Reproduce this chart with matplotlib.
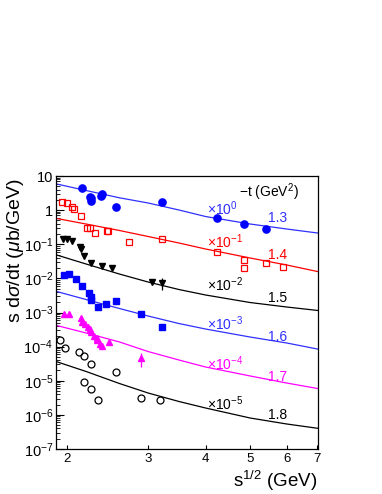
import matplotlib
matplotlib.use("Agg")
import numpy as np
from matplotlib import pyplot as plt
from matplotlib.ticker import FixedLocator, NullFormatter

plt.rcParams['font.family'] = ['Liberation Sans', 'DejaVu Sans']
plt.rcParams['mathtext.fontset'] = 'custom'
plt.rcParams['mathtext.rm'] = 'Liberation Sans'
plt.rcParams['mathtext.it'] = 'Liberation Sans:italic'

# data points (s^1/2 in GeV, s dsigma/dt scaled)
s_13 = [2.16, 2.24, 2.25, 2.26, 2.37, 2.38, 2.55, 3.21, 4.23, 4.86, 5.41]
y_13 = [4.4, 2.5, 2.2, 1.9, 2.6, 2.95, 1.23, 1.7, 0.575, 0.39, 0.28]

s_14 = [1.95, 2.0, 2.05, 2.07, 2.14, 2.21, 2.24, 2.30, 2.44, 2.45, 2.73, 3.21, 4.23, 4.86, 4.86, 5.41, 5.90]
y_14 = [1.77, 1.58, 1.21, 1.07, 0.68, 0.29, 0.29, 0.22, 0.245, 0.24, 0.119, 0.139, 0.060, 0.0344, 0.0196, 0.0275, 0.021]

s_15 = [1.96, 2.0, 2.05, 2.13, 2.15, 2.18, 2.26, 2.38, 2.51, 3.06, 3.21]
y_15 = [0.139, 0.14, 0.126, 0.081, 0.072, 0.046, 0.0275, 0.023, 0.0196, 0.0077, 0.0075]
err_15 = [0, 0, 0, 0, 0, 0, 0, 0, 0, 0, 0.003]

s_16 = [1.97, 2.02, 2.09, 2.16, 2.23, 2.25, 2.25, 2.34, 2.43, 2.55, 2.89, 3.21]
y_16 = [0.0126, 0.0131, 0.0093, 0.0061, 0.0037, 0.0029, 0.0023, 0.00147, 0.00173, 0.00224, 8.9e-4, 3.8e-4]

s_17 = [1.97, 2.02, 2.14, 2.16, 2.19, 2.22, 2.24, 2.26, 2.29, 2.32, 2.32, 2.36, 2.38, 2.47, 2.89]
y_17 = [9.3e-4, 9.3e-4, 6.8e-4, 5.3e-4, 4.6e-4, 3.8e-4, 3.2e-4, 2.6e-4, 2.1e-4, 1.75e-4, 1.55e-4, 1.17e-4, 1.02e-4, 1.33e-4, 4.5e-5]
err_17 = [0, 0, 0, 0, 0, 0, 0, 0, 0, 0, 0, 0, 0, 0, 2.0e-5]

s_18 = [1.93, 1.98, 2.12, 2.18, 2.25, 2.55, 2.18, 2.25, 2.33, 2.89, 3.19]
y_18 = [1.55e-4, 8.9e-5, 7.1e-5, 5.2e-5, 3.1e-5, 1.82e-5, 9.3e-6, 5.9e-6, 2.7e-6, 3.2e-6, 2.7e-6]

# fitted curves
curve_s = [1.9, 2.2, 2.6, 3.0, 3.5, 4.0, 5.0, 6.0, 7.0]
curve_13 = [5.83, 3.76, 2.30, 1.62, 1.01, 0.650, 0.392, 0.280, 0.214]
curve_14 = [0.569, 0.392, 0.253, 0.169, 0.109, 0.0726, 0.0395, 0.0247, 0.0159]
curve_15 = [0.0484, 0.0264, 0.0134, 0.00783, 0.00472, 0.00326, 0.00196, 0.00145, 0.00115]
curve_16 = [4.12e-3, 2.40e-3, 1.31e-3, 7.89e-4, 4.76e-4, 3.28e-4, 1.91e-4, 1.28e-4, 8.51e-5]
curve_17 = [4.16e-4, 2.51e-4, 1.37e-4, 7.19e-5, 4.06e-5, 2.53e-5, 1.38e-5, 8.59e-6, 5.93e-6]
curve_18 = [3.61e-5, 1.87e-5, 8.30e-6, 4.38e-6, 2.47e-6, 1.59e-6, 8.09e-7, 5.41e-7, 4.05e-7]

t_labels = ["1.3", "1.4", "1.5", "1.6", "1.7", "1.8"]
scale_labels = ["0", "-1", "-2", "-3", "-4", "-5"]

blue = "#0000ff"
red = "#ff0000"
magenta = "#ff00ff"

fig = plt.figure(figsize=(3.82, 4.94), dpi=100)
ax = fig.add_axes([0.1466, 0.0911, 0.6859, 0.5526])

# curves
ax.plot(curve_s, curve_13, color="#3030ff", lw=0.9)
ax.plot(curve_s, curve_14, color=red, lw=0.9)
ax.plot(curve_s, curve_15, color="black", lw=0.9)
ax.plot(curve_s, curve_16, color="#3030ff", lw=0.9)
ax.plot(curve_s, curve_17, color=magenta, lw=0.9)
ax.plot(curve_s, curve_18, color="black", lw=0.9)

# data
ax.plot(s_13, y_13, 'o', color=blue, ms=5.2, mec=blue)
ax.plot(s_14, y_14, 's', mfc='none', mec=red, ms=5, mew=0.9)
ax.errorbar(s_15, y_15, yerr=err_15, fmt='v', color="black", ms=5, elinewidth=0.9, capsize=0)
ax.plot(s_16, y_16, 's', color=blue, ms=5)
ax.errorbar(s_17, y_17, yerr=err_17, fmt='^', color=magenta, ms=5, elinewidth=0.9, capsize=0)
ax.plot(s_18, y_18, 'o', mfc='none', mec="black", ms=5, mew=0.9)

ax.set_xscale('log')
ax.set_yscale('log')
ax.set_xlim(1.893, 7.02)
ax.set_ylim(1e-7, 10)

ax.xaxis.set_major_locator(FixedLocator([2, 3, 4, 5, 6, 7]))
ax.xaxis.set_minor_locator(FixedLocator([]))
ax.set_xticklabels(["2", "3", "4", "5", "6", "7"])
ax.xaxis.set_minor_formatter(NullFormatter())

yt = [1e-7, 1e-6, 1e-5, 1e-4, 1e-3, 1e-2, 1e-1, 1, 10]
ax.yaxis.set_major_locator(FixedLocator(yt))
ax.set_yticklabels([r"$10^{-7}$", r"$10^{-6}$", r"$10^{-5}$", r"$10^{-4}$", r"$10^{-3}$",
                    r"$10^{-2}$", r"$10^{-1}$", "1", "10"])
minors = [m * 10.0 ** e for e in range(-7, 1) for m in range(2, 10)]
ax.yaxis.set_minor_locator(FixedLocator(minors))
ax.yaxis.set_minor_formatter(NullFormatter())

ax.tick_params(axis='both', which='both', direction='in')
ax.tick_params(axis='x', which='major', length=3, pad=3, labelsize=9.5)
ax.tick_params(axis='y', which='major', length=6, pad=2, labelsize=10.5)
ax.tick_params(axis='y', which='minor', length=3)
for sp in ax.spines.values():
    sp.set_linewidth(0.9)

# annotations
ax.text(0.70, 0.942, r"$-$t (GeV$^{2}$)", transform=ax.transAxes, fontsize=10, va='center', ha='left')
colors = ["#3030ff", red, "black", "#3030ff", magenta, "black"]
scale_y = [208.3, 241.7, 285.0, 323.3, 363.3, 403.3]
lab_y = [218.0, 255.0, 298.3, 336.7, 376.7, 415.0]
for i in range(6):
    yy = 1 - (scale_y[i] - 176) / 273.0
    ax.text(0.575, yy, r"$\times$10$^{" + scale_labels[i] + "}$", transform=ax.transAxes,
            color=colors[i], fontsize=10, va='center', ha='left')
    yl = 1 - (lab_y[i] - 176) / 273.0
    ax.text(0.845, yl, t_labels[i], transform=ax.transAxes,
            color=colors[i], fontsize=10, va='center', ha='center')

fig.text(0.832, 0.002, r"s$^{1/2}$ (GeV)", fontsize=13.5, ha='right', va='bottom')
fig.text(0.04, 1 - 251 / 494.0, r"s d$\sigma$/dt ($\mu$b/GeV)", fontsize=14, rotation=90,
         ha='center', va='center')

fig.savefig("out.png", dpi=100)
